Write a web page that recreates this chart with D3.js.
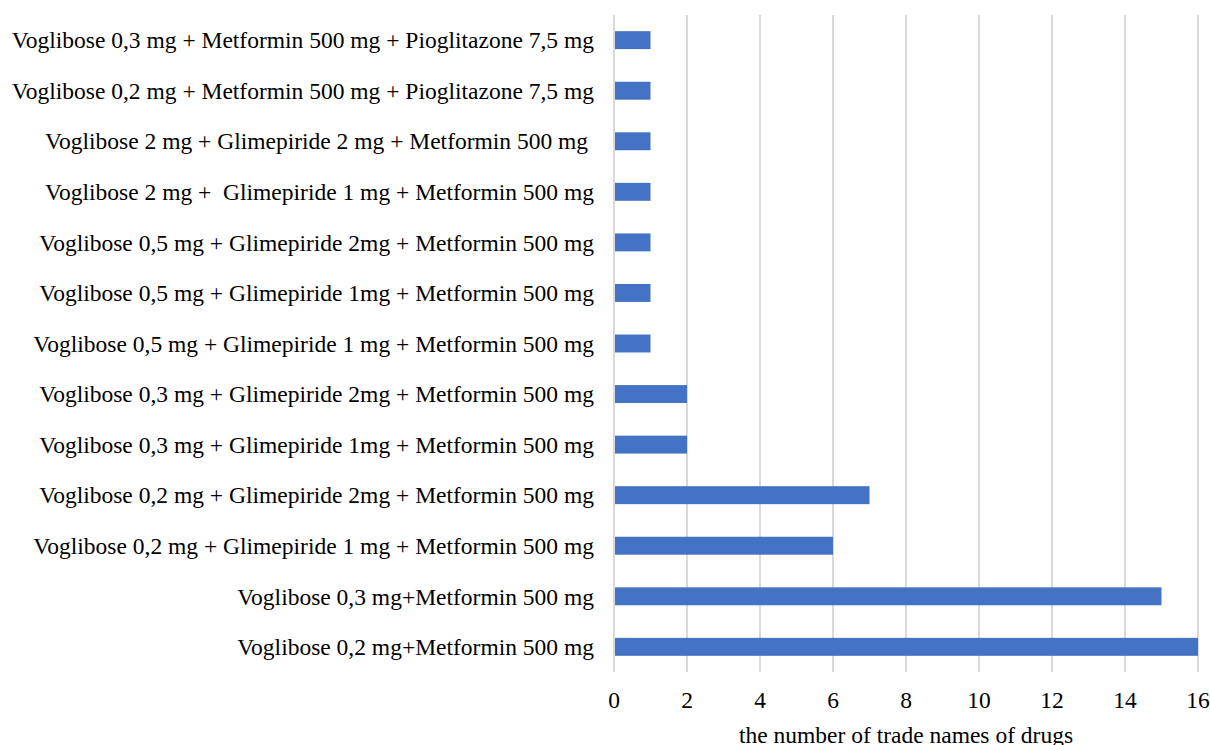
<!DOCTYPE html>
<html><head><meta charset="utf-8">
<script src="https://cdn.jsdelivr.net/npm/d3@7"></script>
<style>body{margin:0;background:#fff}svg{display:block}text{font-family:"Liberation Serif","Times New Roman",serif;white-space:pre}</style>
</head><body><svg id="c" width="1210" height="745"></svg>
<script>
const categories = [
"Voglibose 0,3 mg + Metformin 500 mg + Pioglitazone 7,5 mg",
"Voglibose 0,2 mg + Metformin 500 mg + Pioglitazone 7,5 mg",
"Voglibose 2 mg + Glimepiride 2 mg + Metformin 500 mg ",
"Voglibose 2 mg +  Glimepiride 1 mg + Metformin 500 mg",
"Voglibose 0,5 mg + Glimepiride 2mg + Metformin 500 mg",
"Voglibose 0,5 mg + Glimepiride 1mg + Metformin 500 mg",
"Voglibose 0,5 mg + Glimepiride 1 mg + Metformin 500 mg",
"Voglibose 0,3 mg + Glimepiride 2mg + Metformin 500 mg",
"Voglibose 0,3 mg + Glimepiride 1mg + Metformin 500 mg",
"Voglibose 0,2 mg + Glimepiride 2mg + Metformin 500 mg",
"Voglibose 0,2 mg + Glimepiride 1 mg + Metformin 500 mg",
"Voglibose 0,3 mg+Metformin 500 mg",
"Voglibose 0,2 mg+Metformin 500 mg"];
const values = [1,1,1,1,1,1,1,2,2,7,6,15,16];
const xTicks = [0,2,4,6,8,10,12,14,16];
const xTitle = "the number of trade names of drugs";

const svg = d3.select("#c");
const x = d3.scaleLinear().domain([0,16]).range([614,1198]);
const y = d3.scaleBand().domain(categories).range([15,672]).paddingInner(0.645).paddingOuter(0.32);
const fs = 23.5;

svg.append("g").selectAll("line").data(xTicks).join("line")
  .attr("x1",d=>x(d)).attr("x2",d=>x(d)).attr("y1",15).attr("y2",672)
  .attr("stroke","#d9d9d9").attr("stroke-width",2);

svg.append("g").selectAll("rect").data(values).join("rect")
  .attr("x",x(0)+1).attr("y",(d,i)=>y(categories[i]))
  .attr("width",d=>x(d)-x(0)-1).attr("height",y.bandwidth())
  .attr("fill","#4472c4");

svg.append("g").selectAll("text").data(categories).join("text")
  .attr("x",594).attr("y",d=>y(d)+y.bandwidth()/2).attr("dy","0.35em")
  .attr("text-anchor","end").attr("font-size",fs).attr("fill","#000").text(d=>d);

svg.append("g").selectAll("text").data(xTicks).join("text")
  .attr("x",d=>x(d)).attr("y",700).attr("dy","0.35em")
  .attr("text-anchor","middle").attr("font-size",fs).attr("fill","#000").text(d=>d);

svg.append("text").attr("x",906).attr("y",735).attr("dy","0.35em")
  .attr("text-anchor","middle").attr("font-size",fs).attr("fill","#000").text(xTitle);
</script></body></html>
